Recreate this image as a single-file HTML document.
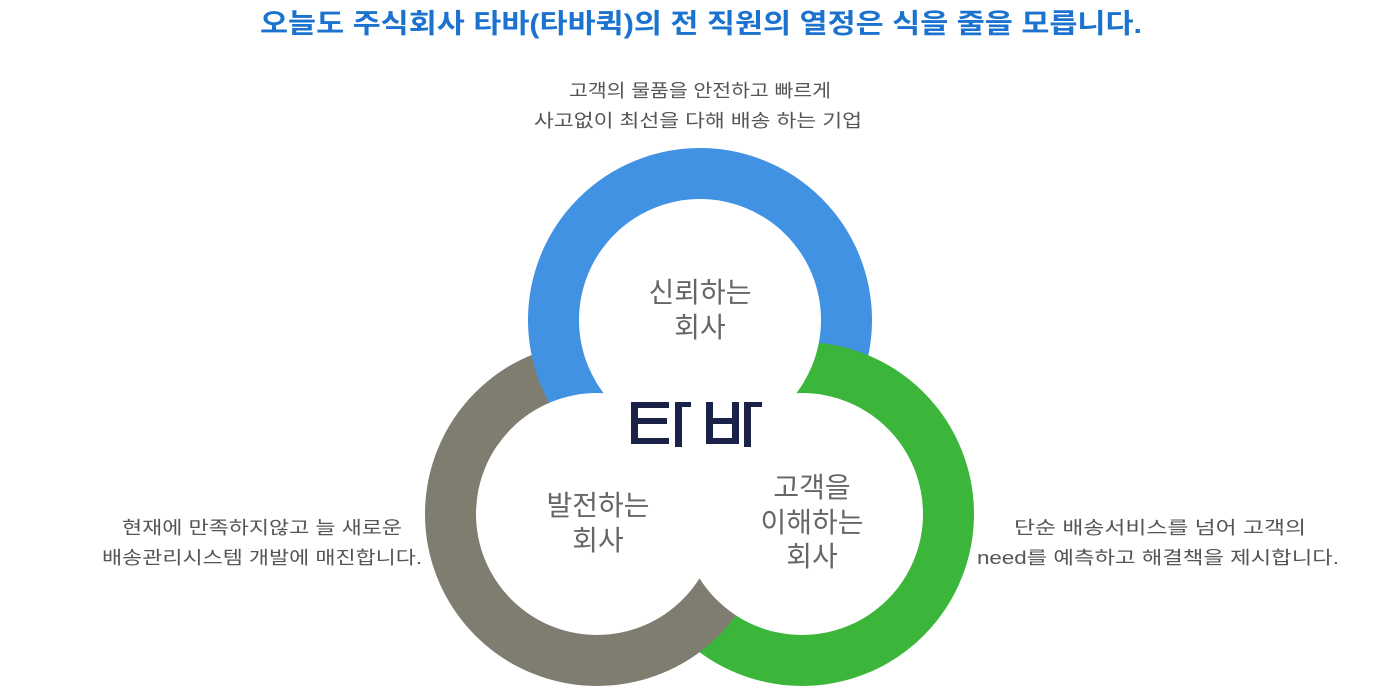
<!DOCTYPE html>
<html><head><meta charset="utf-8"><style>
html,body{margin:0;padding:0;background:#fff;}
svg{display:block;}
text{font-family:"Liberation Sans","Noto Sans CJK KR","NanumGothic",sans-serif;}
</style></head><body>
<svg width="1400" height="692" viewBox="0 0 1400 692" xmlns="http://www.w3.org/2000/svg">
<defs>
<clipPath id="cb"><rect x="640" y="560" width="140" height="140"/></clipPath>
</defs>
<text x="260" y="33" font-size="27" font-weight="bold" fill="#1b73cf" textLength="882" lengthAdjust="spacingAndGlyphs">오늘도 주식회사 타바(타바퀵)의  전 직원의 열정은 식을 줄을 모릅니다.</text>

<text x="700" y="97" font-size="18" fill="#555" text-anchor="middle" textLength="262" lengthAdjust="spacingAndGlyphs">고객의 물품을 안전하고 빠르게</text>
<text x="698" y="127" font-size="18" fill="#555" text-anchor="middle" textLength="328" lengthAdjust="spacingAndGlyphs">사고없이 최선을 다해 배송 하는 기업</text>

<text x="262" y="534" font-size="18" fill="#555" text-anchor="middle" textLength="280" lengthAdjust="spacingAndGlyphs">현재에 만족하지않고 늘 새로운</text>
<text x="262" y="564" font-size="18" fill="#555" text-anchor="middle" textLength="320" lengthAdjust="spacingAndGlyphs">배송관리시스템 개발에 매진합니다.</text>

<text x="1160" y="534" font-size="18" fill="#555" text-anchor="middle" textLength="292" lengthAdjust="spacingAndGlyphs">단순 배송서비스를 넘어 고객의</text>
<text x="1158" y="564" font-size="18" fill="#555" text-anchor="middle" textLength="362" lengthAdjust="spacingAndGlyphs">need를 예측하고 해결책을 제시합니다.</text>

<circle cx="597" cy="514" r="146" fill="none" stroke="#7f7d70" stroke-width="52"/>
<circle cx="700" cy="320" r="146" fill="none" stroke="#4192e3" stroke-width="52"/>
<circle cx="802" cy="514" r="146" fill="none" stroke="#3bb53a" stroke-width="52"/>
<circle cx="597" cy="514" r="146" fill="none" stroke="#7f7d70" stroke-width="52" clip-path="url(#cb)"/>

<circle cx="700" cy="320" r="121" fill="#fff"/>
<circle cx="597" cy="514" r="121" fill="#fff"/>
<circle cx="802" cy="514" r="121" fill="#fff"/>
<circle cx="700" cy="450" r="60" fill="#fff"/>

<text x="700" y="302" font-size="28" fill="#666" text-anchor="middle">신뢰하는</text>
<text x="700" y="337" font-size="28" fill="#666" text-anchor="middle">회사</text>
<text x="598" y="515" font-size="28" fill="#666" text-anchor="middle">발전하는</text>
<text x="598" y="550" font-size="28" fill="#666" text-anchor="middle">회사</text>
<text x="812" y="497" font-size="28" fill="#666" text-anchor="middle">고객을</text>
<text x="812" y="532" font-size="28" fill="#666" text-anchor="middle">이해하는</text>
<text x="812" y="566" font-size="28" fill="#666" text-anchor="middle">회사</text>

<g fill="#1a2347">
<rect x="631" y="402" width="38" height="6"/>
<rect x="631" y="402" width="7" height="42"/>
<rect x="631" y="418" width="36" height="6"/>
<rect x="631" y="438" width="38" height="6"/>
<rect x="675" y="402" width="7" height="45"/>
<rect x="675" y="402" width="16" height="5"/>
<rect x="706" y="402" width="7" height="42"/>
<rect x="732" y="402" width="7" height="42"/>
<rect x="706" y="418" width="30" height="6"/>
<rect x="706" y="438" width="30" height="6"/>
<rect x="744" y="402" width="7" height="45"/>
<rect x="744" y="402" width="18" height="5"/>
</g>
</svg>
</body></html>
